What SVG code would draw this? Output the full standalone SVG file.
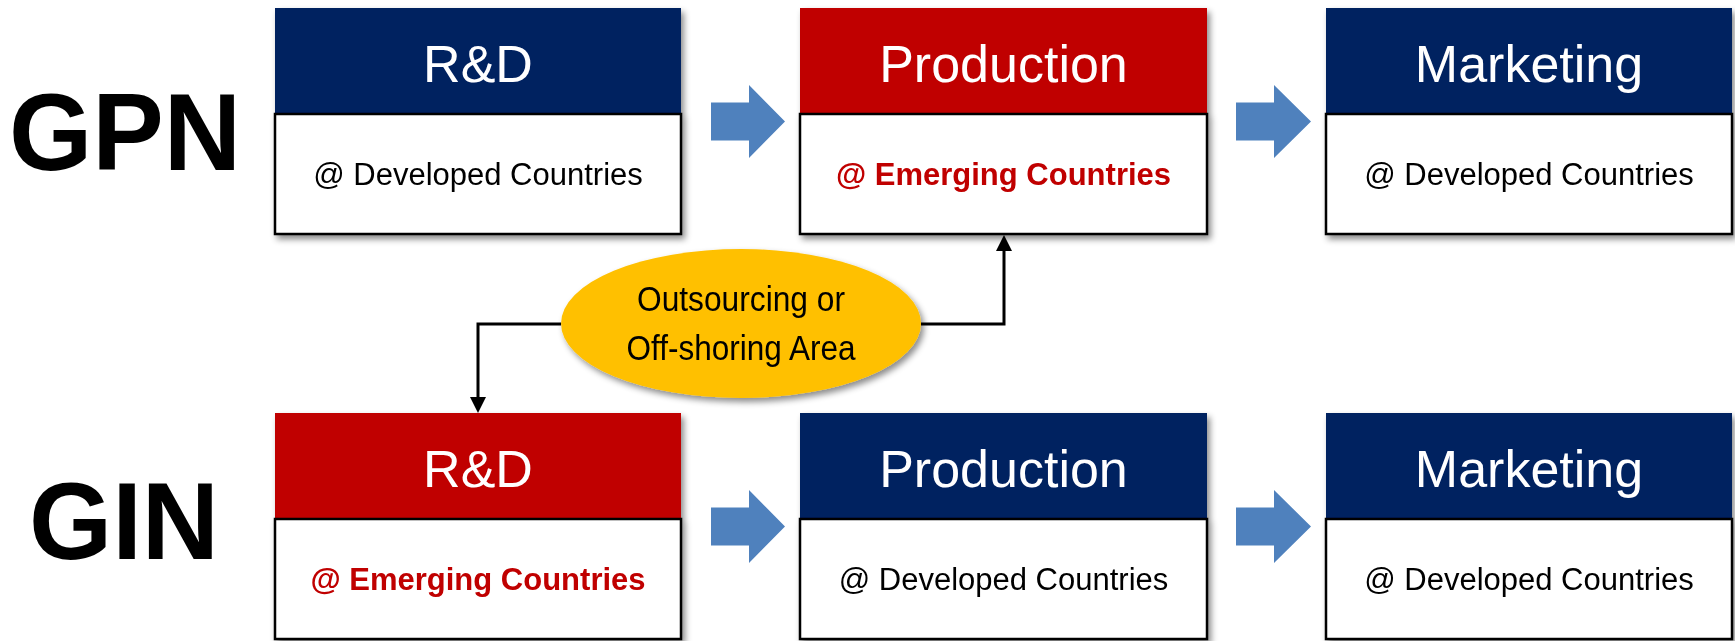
<svg xmlns="http://www.w3.org/2000/svg" width="1735" height="641" viewBox="0 0 1735 641">
<defs>
<filter id="sh" x="-10%" y="-10%" width="125%" height="130%">
<feDropShadow dx="3" dy="4" stdDeviation="3" flood-color="#000" flood-opacity="0.45"/>
</filter>
</defs>
<style>
.navy{fill:#002060}
.red{fill:#C00000}
.body{fill:#FFFFFF;stroke:#000;stroke-width:2.5}
.hdr{font-family:"Liberation Sans",Arial,sans-serif;font-size:52px;fill:#FFFFFF;text-anchor:middle}
.dev{font-family:"Liberation Sans",Arial,sans-serif;font-size:31px;fill:#000;text-anchor:middle}
.emg{font-family:"Liberation Sans",Arial,sans-serif;font-size:31px;font-weight:bold;fill:#C00000;text-anchor:middle}
.big{font-family:"Liberation Sans",Arial,sans-serif;font-size:110px;font-weight:bold;fill:#000;text-anchor:middle}
.ell{font-family:"Liberation Sans",Arial,sans-serif;font-size:35px;fill:#000;text-anchor:middle}
.flow{fill:#4F81BD}
.conn{fill:none;stroke:#000;stroke-width:3}
</style>

<g id="label-gpn"><text class="big" x="125" y="170" textLength="232" lengthAdjust="spacingAndGlyphs">GPN</text></g>
<g id="label-gin"><text class="big" x="124" y="559" textLength="190" lengthAdjust="spacingAndGlyphs">GIN</text></g>

<g id="gpn-rd" filter="url(#sh)">
<rect class="navy" x="275" y="8" width="406" height="106"/>
<rect class="body" x="275" y="114" width="406" height="120"/>
<text class="hdr" x="478" y="82">R&amp;D</text>
<text class="dev" x="478" y="185">@ Developed Countries</text>
</g>
<g id="gpn-prod" filter="url(#sh)">
<rect class="red" x="800" y="8" width="407" height="106"/>
<rect class="body" x="800" y="114" width="407" height="120"/>
<text class="hdr" x="1003.5" y="82">Production</text>
<text class="emg" x="1003.5" y="185">@ Emerging Countries</text>
</g>
<g id="gpn-mkt" filter="url(#sh)">
<rect class="navy" x="1326" y="8" width="406" height="106"/>
<rect class="body" x="1326" y="114" width="406" height="120"/>
<text class="hdr" x="1529" y="82">Marketing</text>
<text class="dev" x="1529" y="185">@ Developed Countries</text>
</g>

<g id="gin-rd" filter="url(#sh)">
<rect class="red" x="275" y="413" width="406" height="106"/>
<rect class="body" x="275" y="519" width="406" height="120"/>
<text class="hdr" x="478" y="487">R&amp;D</text>
<text class="emg" x="478" y="590">@ Emerging Countries</text>
</g>
<g id="gin-prod" filter="url(#sh)">
<rect class="navy" x="800" y="413" width="407" height="106"/>
<rect class="body" x="800" y="519" width="407" height="120"/>
<text class="hdr" x="1003.5" y="487">Production</text>
<text class="dev" x="1003.5" y="590">@ Developed Countries</text>
</g>
<g id="gin-mkt" filter="url(#sh)">
<rect class="navy" x="1326" y="413" width="406" height="106"/>
<rect class="body" x="1326" y="519" width="406" height="120"/>
<text class="hdr" x="1529" y="487">Marketing</text>
<text class="dev" x="1529" y="590">@ Developed Countries</text>
</g>

<g id="offshore" filter="url(#sh)">
<ellipse cx="741" cy="323.5" rx="180" ry="74.5" fill="#FFC000"/>
<text class="ell" x="741" y="311" textLength="208" lengthAdjust="spacingAndGlyphs">Outsourcing or</text>
<text class="ell" x="741" y="360" textLength="229" lengthAdjust="spacingAndGlyphs">Off-shoring Area</text>
</g>

<g id="connectors">
<path class="flow" d="M711,102.5 L749,102.5 L749,85 L785,121.5 L749,158 L749,140.5 L711,140.5 Z"/>
<path class="flow" d="M1236,102.5 L1274,102.5 L1274,85 L1311,121.5 L1274,158 L1274,140.5 L1236,140.5 Z"/>
<path class="flow" d="M711,507.5 L749,507.5 L749,490 L785,526.5 L749,563 L749,545.5 L711,545.5 Z"/>
<path class="flow" d="M1236,507.5 L1274,507.5 L1274,490 L1311,526.5 L1274,563 L1274,545.5 L1236,545.5 Z"/>
<path class="conn" d="M561,324 L478,324 L478,398"/>
<path d="M470,397 L486,397 L478,413 Z" fill="#000"/>
<path class="conn" d="M921,324 L1004,324 L1004,250"/>
<path d="M996,251 L1012,251 L1004,235 Z" fill="#000"/>
</g>
</svg>
